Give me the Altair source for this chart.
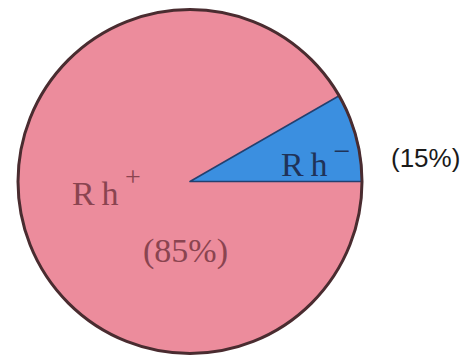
import altair as alt
import pandas as pd

# Data
categories = ["Rh+", "Rh−"]
label_pct = ["(85%)", "(15%)"]
# wedge sizes as drawn in the picture (blue wedge spans ~30 degrees)
drawn_share = [91.7, 8.3]
colors = ["#EC8C9C", "#3B8FE0"]

df = pd.DataFrame({"group": categories, "share": drawn_share, "order": [0, 1],
                   "pct": label_pct})

CX, CY, R = 182, 173.5, 172
PI = 3.141592653589793

pie = alt.Chart(df).mark_arc(radius=R, strokeJoin="round").encode(
    x=alt.value(CX), y=alt.value(CY),
    theta=alt.Theta("share:Q", stack=True,
                    scale=alt.Scale(range=[PI / 2, PI / 2 + 2 * PI])),
    order=alt.Order("order:Q"),
    color=alt.Color("group:N", scale=alt.Scale(domain=categories, range=colors), legend=None),
    stroke=alt.Stroke("group:N", scale=alt.Scale(domain=categories, range=["#EC8C9C", "#23406f"]), legend=None),
    strokeWidth=alt.StrokeWidth("group:N", scale=alt.Scale(domain=categories, range=[0, 1.6]), legend=None),
)

outline_df = pd.DataFrame({"k": ["outline"]})
outline = alt.Chart(outline_df).mark_arc(
    radius=R, theta=0, theta2=2 * PI, fill=None, filled=False,
    stroke="#4a2c30", strokeWidth=3
).encode(x=alt.value(CX), y=alt.value(CY))

serif = "Liberation Serif"
sans = "Liberation Sans"
maroon = "#8a4450"
navy = "#1f3358"

t_rhp = alt.Chart(pd.DataFrame({"t": ["R\u2009h"]})).mark_text(
    font=serif, fontSize=34, color=maroon, align="left", baseline="alphabetic"
).encode(x=alt.value(64), y=alt.value(197), text="t:N")
t_plus = alt.Chart(pd.DataFrame({"t": ["+"]})).mark_text(
    font=serif, fontSize=28, color=maroon, align="center", baseline="middle"
).encode(x=alt.value(125), y=alt.value(170), text="t:N")
t_85 = alt.Chart(pd.DataFrame({"t": [label_pct[0]]})).mark_text(
    font=serif, fontSize=34, color=maroon, align="left", baseline="alphabetic"
).encode(x=alt.value(135), y=alt.value(254), text="t:N")

t_rhm = alt.Chart(pd.DataFrame({"t": ["R\u2009h"]})).mark_text(
    font=serif, fontSize=34, color=navy, align="left", baseline="alphabetic"
).encode(x=alt.value(273), y=alt.value(168), text="t:N")
t_minus = alt.Chart(pd.DataFrame({"t": ["\u2212"]})).mark_text(
    font=serif, fontSize=30, color=navy, align="center", baseline="middle"
).encode(x=alt.value(334), y=alt.value(144), text="t:N")
t_15 = alt.Chart(pd.DataFrame({"t": [label_pct[1]]})).mark_text(
    font=sans, fontSize=26, color="#1a1a1a", align="left", baseline="alphabetic"
).encode(x=alt.value(383), y=alt.value(159), text="t:N")

chart = alt.layer(pie, outline, t_rhp, t_plus, t_85, t_rhm, t_minus, t_15).properties(
    width=456, height=348, padding=0, background="white",
    autosize=alt.AutoSizeParams(type="none"),
).configure_view(stroke=None)

chart.save("out.html", embed_options={"renderer": "svg", "actions": False})
